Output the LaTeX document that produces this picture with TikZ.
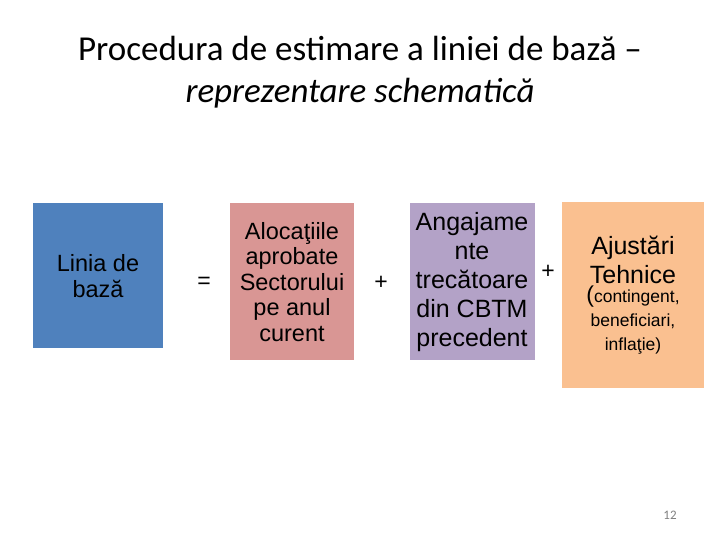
\documentclass[tikz,border=0pt]{standalone}
\usepackage{fontspec}
\setmainfont{Liberation Sans}
\newfontfamily\titlefont{Carlito}
\usetikzlibrary{positioning}
\definecolor{bazablue}{HTML}{4F81BD}
\definecolor{alocpink}{HTML}{D99694}
\definecolor{angpurple}{HTML}{B3A2C7}
\definecolor{ajorange}{HTML}{FAC090}
\tikzset{
  termbox/.style={inner sep=0pt, align=center, font=\fontsize{23.5}{25.5}\selectfont},
  opsign/.style={font=\fontsize{23}{23}\selectfont},
}
\begin{document}
\begin{tikzpicture}[x=1pt, y=-1pt]
\useasboundingbox (0,0) rectangle (720,540);

\node[align=center, font=\titlefont\fontsize{35}{42}\selectfont] (titlu) at (360,72)
  {Procedura de estimare a liniei de bază –\\ \itshape reprezentare schematică};

% boxes
\fill[bazablue] (33,203) rectangle (163,348);
\node[termbox] (baza) at (98,276) {Linia de\\bază};
\node[opsign] (egal) at (204,283) {=};

\fill[alocpink] (230,203) rectangle (354,360);
\node[termbox] (aloc) at (292,282) {Alocaţiile\\aprobate\\Sectorului\\pe anul\\curent};
\node[opsign] (plus1) at (381,283) {+};

\fill[angpurple] (410,203) rectangle (535,360);
\node[termbox, font=\fontsize{25}{29}\selectfont] (angaj) at (472,282) {Angajame\\nte\\trecătoare\\din CBTM\\precedent};
\node[opsign] (plus2) at (548,272) {+};

\fill[ajorange] (562,202) rectangle (704,388);
\node[termbox, font=\fontsize{25}{29}\selectfont] (ajust) at (633,260) {Ajustări\\Tehnice};
\node[termbox, font=\fontsize{17.5}{24}\selectfont, below=2pt of ajust] (ajdet)
  {{\fontsize{23}{20}\selectfont(}contingent,\\beneficiari,\\inflaţie)};

\node[text=gray, font=\titlefont\fontsize{13}{14}\selectfont] (pag) at (670,515) {12};
\end{tikzpicture}
\end{document}
